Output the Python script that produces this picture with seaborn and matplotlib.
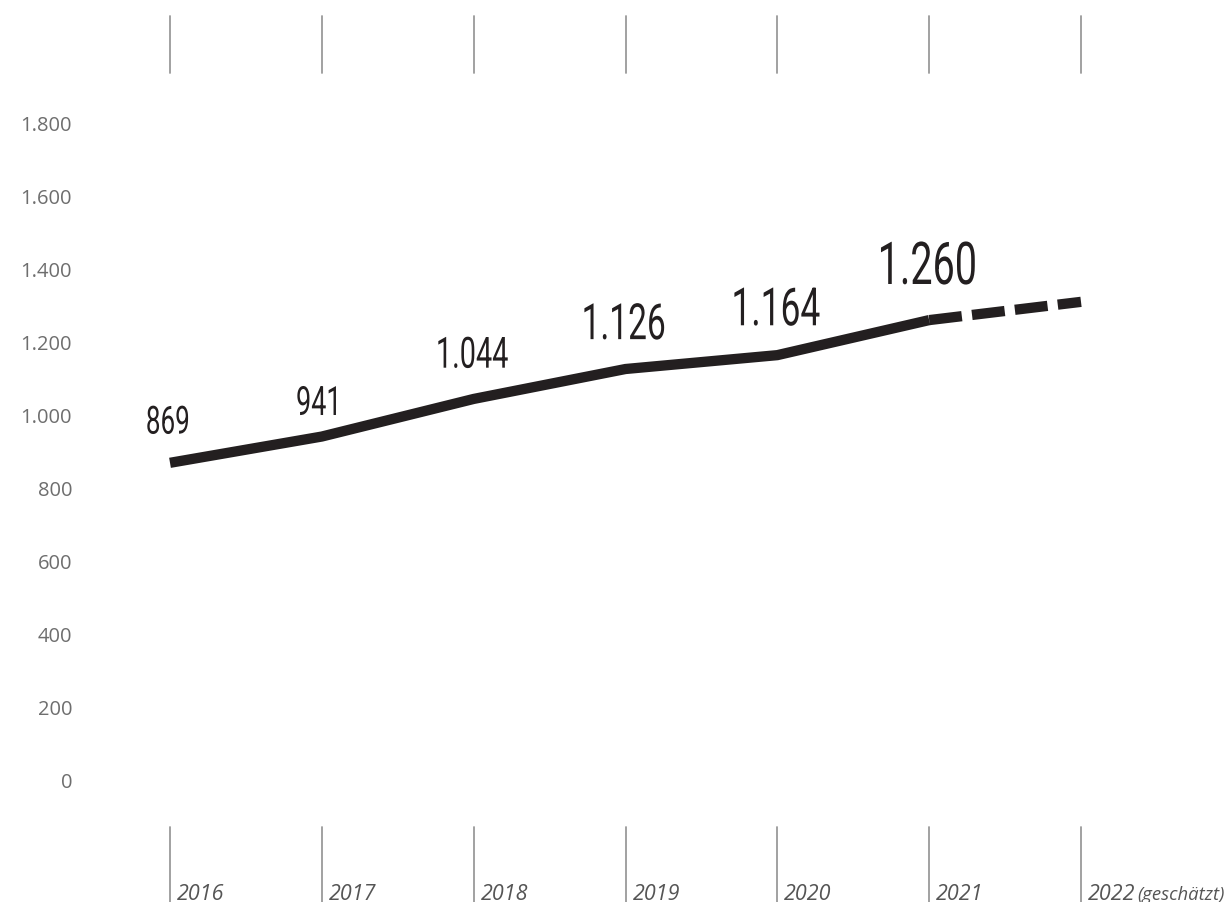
import matplotlib
matplotlib.use("Agg")
import matplotlib.pyplot as plt
import matplotlib.transforms as mtransforms
import matplotlib.patheffects as pe
import seaborn as sns
import pandas as pd

# Data
years = [2016, 2017, 2018, 2019, 2020, 2021, 2022]
year_labels = ["2016", "2017", "2018", "2019", "2020", "2021", "2022"]
values = [869, 941, 1044, 1126, 1164, 1260, 1310]
estimated_from = 2021          # last measured year; the segment after it is an estimate
y_ticks = [0, 200, 400, 600, 800, 1000, 1200, 1400, 1600, 1800]


def de_fmt(v):
    return f"{v:,}".replace(",", ".")


class Condensed(pe.AbstractPathEffect):
    """Squeeze rendered text horizontally around its own centre."""

    def __init__(self, sx=0.62):
        super().__init__()
        self.sx = sx

    def draw_path(self, renderer, gc, tpath, affine, rgbFace=None):
        ext = tpath.get_extents(affine)
        cx = 0.5 * (ext.x0 + ext.x1)
        squeeze = mtransforms.Affine2D().translate(-cx, 0).scale(self.sx, 1).translate(cx, 0)
        renderer.draw_path(gc, tpath, affine + squeeze, rgbFace)


sns.set_theme(style="white")
plt.rcParams["font.family"] = ["Open Sans", "DejaVu Sans"]

W, H, DPI = 12.26, 9.03, 100
fig = plt.figure(figsize=(W, H), dpi=DPI)
ax = fig.add_axes([0, 0, 1, 1])

# scale: x px per year, y px per unit
px_year = (1081 - 170) / 6
px_unit = (781 - 124) / 1800
ax.set_xlim(2016 - 170 / px_year, 2022 + (1226 - 1081) / px_year)
ax.set_ylim(-(903 - 781) / px_unit, 781 / px_unit)

df = pd.DataFrame({"year": years, "value": values})
measured = df[df["year"] <= estimated_from]
estimate = df[df["year"] >= estimated_from]

ink = "#231f20"
sns.lineplot(data=measured, x="year", y="value", ax=ax, color=ink,
             linewidth=7.4, solid_capstyle="butt", solid_joinstyle="miter")
sns.lineplot(data=estimate, x="year", y="value", ax=ax, color=ink,
             linewidth=7.4, linestyle=(0, (3.2, 1.0)), dash_capstyle="butt")

# value labels above the measured points
label_sizes = [28.0, 29.0, 31.0, 36.0, 38.0, 42.5]
label_offsets = [21.0, 15.5, 22.5, 21.5, 21.5, 26.0]
for (yr, v), fs, off in zip(zip(measured["year"], measured["value"]),
                            label_sizes, label_offsets):
    ax.annotate(de_fmt(v), xy=(yr, v), xytext=(-1.5, off),
                textcoords="offset points", ha="center", va="baseline",
                fontsize=fs, color=ink, family=["Roboto", "DejaVu Sans"],
                fontweight="normal", path_effects=[Condensed(0.67)])

# vertical guide marks at top and bottom of each year column
tick_col = "#9a9a9a"
for yr in years:
    ax.axvline(yr, ymin=1 - 74 / 903, ymax=1 - 17 / 903, color=tick_col, lw=1.3)
    ax.axvline(yr, ymin=0, ymax=1 - 828 / 903, color=tick_col, lw=1.3)

# year labels, italic, to the right of the bottom marks
xlab_tr = mtransforms.blended_transform_factory(ax.transData, ax.transAxes)
for yr, lab in zip(years, year_labels):
    t = mtransforms.offset_copy(xlab_tr, fig=fig, x=7, y=0, units="dots")
    ax.text(yr, 3 / 903, lab, transform=t, ha="left", va="baseline",
            fontsize=15.5, style="italic", color="#555555")
t = mtransforms.offset_copy(xlab_tr, fig=fig, x=56, y=0, units="dots")
ax.text(years[-1], 3 / 903, "(geschätzt)", transform=t, ha="left",
        va="baseline", fontsize=13.3, style="italic", color="#555555")

# y tick labels
ax.set_yticks(y_ticks)
ax.set_yticklabels([de_fmt(v) for v in y_ticks])
ax.tick_params(axis="y", length=0, pad=-72 * 72 / DPI, labelsize=14.5,
               labelcolor="#6e6e6e")
ax.set_xticks([])
ax.set_xlabel("")
ax.set_ylabel("")
for s in ax.spines.values():
    s.set_visible(False)

fig.savefig("out.png", dpi=DPI, facecolor="white")
